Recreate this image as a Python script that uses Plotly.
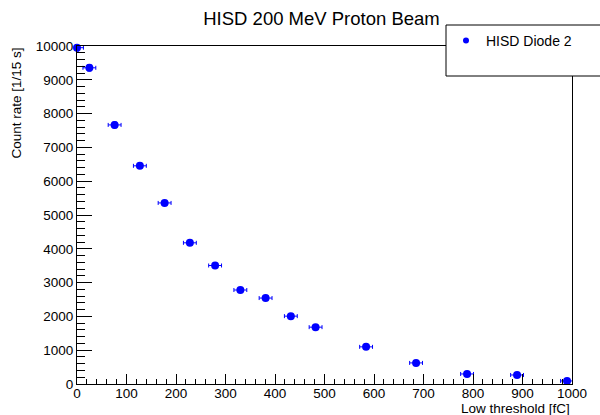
import plotly.graph_objects as go

# ---- data ----
threshold_fc = [0, 25, 76, 127, 177, 228, 279, 330, 381, 432, 482, 584, 685, 788, 889, 990]
count_rate = [9950, 9355, 7665, 6455, 5357, 4177, 3506, 2781, 2543, 2008, 1682, 1099, 624, 297, 267, 90]
threshold_err = [13, 13, 13, 13, 13, 13, 13, 13, 13, 13, 13, 13, 13, 13, 13, 13]
rate_err = [100, 97, 88, 80, 73, 65, 59, 53, 50, 45, 41, 33, 25, 17, 16, 9]
series_name = "HISD Diode 2"
title_text = "HISD 200 MeV Proton Beam"
x_title = "Low threshold [fC]"
y_title = "Count rate [1/15 s]"

FONT = "Liberation Sans, Arial, Helvetica, sans-serif"
BLUE = "#0000ff"

fig = go.Figure()
fig.add_trace(go.Scatter(
    x=threshold_fc, y=count_rate, mode="markers", showlegend=False,
    marker=dict(color=BLUE, size=8, symbol="circle"),
    error_x=dict(type="data", array=threshold_err, color=BLUE, thickness=1, width=2),
    error_y=dict(type="data", array=rate_err, color=BLUE, thickness=1, width=2),
    cliponaxis=False,
))
fig.add_trace(go.Scatter(
    x=[None], y=[None], mode="markers", name=series_name,
    marker=dict(color=BLUE, size=6),
))

L, R, T, B = 77, 28, 46, 31
W, H = 600, 415
pw, ph = W - L - R, H - T - B

def px(x):
    return (x - L) / pw

def py(y):
    return (H - B - y) / ph

fig.update_layout(
    width=W, height=H,
    margin=dict(l=L, r=R, t=T, b=B, autoexpand=False),
    paper_bgcolor="white", plot_bgcolor="white",
    font=dict(family=FONT, color="black", size=13.5),
    title=dict(text=title_text, x=321.5 / W, xanchor="center",
               y=1 - 18.5 / H, yanchor="middle", yref="container",
               font=dict(size=18.5, family=FONT, color="black")),
    xaxis=dict(range=[0, 1000], dtick=100, tick0=0, ticks="inside", ticklen=10,
               tickcolor="black", tickwidth=1, showgrid=False, zeroline=False,
               showline=True, linecolor="black", linewidth=1, mirror=True,
               tickfont=dict(size=13.5), ticklabelstandoff=-3,
               minor=dict(dtick=20, ticks="inside", ticklen=5, tickcolor="black", showgrid=False)),
    yaxis=dict(range=[0, 10000], dtick=1000, tick0=0, ticks="inside", ticklen=15,
               tickcolor="black", tickwidth=1, showgrid=False, zeroline=False,
               showline=True, linecolor="black", linewidth=1, mirror=True,
               tickformat="d", tickfont=dict(size=13.5),
               minor=dict(dtick=200, ticks="inside", ticklen=7.5, tickcolor="black", showgrid=False)),
    showlegend=True,
    legend=dict(x=px(446), y=py(25), xanchor="left", yanchor="top",
                bgcolor="rgba(0,0,0,0)", borderwidth=0,
                font=dict(size=14, family=FONT, color="black")),
)

# legend box (ROOT style)
fig.add_shape(type="rect", xref="paper", yref="paper",
              x0=px(446), x1=px(606), y0=py(76), y1=py(25),
              line=dict(color="black", width=1), fillcolor="white", layer="above")

# axis titles (ROOT style: right/top aligned)
fig.add_annotation(text=x_title, xref="paper", yref="paper", x=1, xanchor="right",
                   y=py(408), yanchor="middle", showarrow=False,
                   font=dict(size=13.5, family=FONT, color="black"))
fig.add_annotation(text=y_title, xref="paper", yref="paper", x=px(16), xanchor="center",
                   y=1, yanchor="top", textangle=-90, showarrow=False,
                   font=dict(size=13.5, family=FONT, color="black"))

fig.write_html("out.html")
